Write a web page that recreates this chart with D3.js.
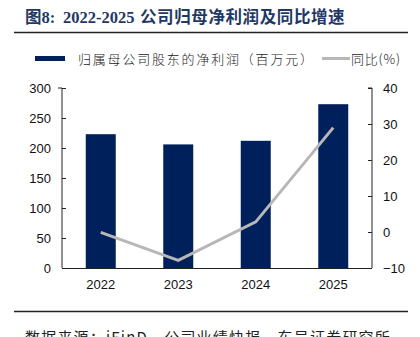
<!DOCTYPE html>
<html><head><meta charset="utf-8">
<script src="https://cdn.jsdelivr.net/npm/d3@7"></script>
<style>body{margin:0;background:#fff}svg{display:block}</style>
</head><body>
<svg id="c" width="420" height="337"></svg>
<script>
const years = ["2022","2023","2024","2025"];
const netProfit = [223, 206, 212, 273];
const growth = [-0.1, -7.9, 2.8, 29.0];
const leftTicks = [0,50,100,150,200,250,300];
const rightTicks = [-10,0,10,20,30,40];
const legendBar = "归属母公司股东的净利润（百万元）";
const legendLine = "同比(%)";
const source = "数据来源：iFinD，公司业绩快报，东吴证券研究所";

const svg = d3.select("#c");
const L = 62, R = 372, T = 88, B = 268;
const x = d3.scaleBand().domain(years).range([L, R]).paddingInner(0.613).paddingOuter(0.3065);
const yL = d3.scaleLinear().domain([0,300]).range([B, T]);
const yR = d3.scaleLinear().domain([-10,40]).range([B, T]);
const navy = "#00205b", grey = "#b7b7b7";
const sans = "'Liberation Sans', Arial, sans-serif";
const cjk = "'Noto Sans CJK SC', sans-serif";

// title
const tt = svg.append("text").attr("x", 25).attr("y", 23).attr("fill", "#1f3864")
  .attr("font-size", 16.5).attr("font-weight", "bold");
tt.append("tspan").attr("font-family", cjk).text("图");
tt.append("tspan").attr("font-family", "'Liberation Serif', serif").text("8:");
tt.append("tspan").attr("x", 63).attr("font-family", "'Liberation Serif', serif").text("2022-2025");
tt.append("tspan").attr("x", 140).attr("font-family", cjk).attr("letter-spacing", 0.6).text("公司归母净利润及同比增速");
svg.append("line").attr("x1",14).attr("x2",408).attr("y1",32.5).attr("y2",32.5).attr("stroke","#222").attr("stroke-width",1.3);
svg.append("line").attr("x1",14).attr("x2",408).attr("y1",311.5).attr("y2",311.5).attr("stroke","#222").attr("stroke-width",1.3);
svg.append("text").attr("x",25).attr("y",343).attr("font-family",cjk).attr("font-size",15).attr("letter-spacing",1.2).attr("fill","#222").text(source);

// legend
svg.append("rect").attr("x",35).attr("y",56).attr("width",30).attr("height",5).attr("fill",navy);
svg.append("text").attr("x",78).attr("y",63.5).attr("font-family",cjk).attr("font-size",13).attr("font-weight",300).attr("letter-spacing",1.8).attr("fill","#222").text(legendBar);
svg.append("line").attr("x1",322).attr("x2",350).attr("y1",58.5).attr("y2",58.5).attr("stroke",grey).attr("stroke-width",3);
svg.append("text").attr("x",351).attr("y",63.5).attr("font-family",cjk).attr("font-size",13).attr("font-weight",300).attr("letter-spacing",0.8).attr("fill","#222").text(legendLine);

// bars
svg.append("g").selectAll("rect").data(years).join("rect")
  .attr("x", d => x(d)).attr("width", x.bandwidth())
  .attr("y", (d,i) => yL(netProfit[i])).attr("height", (d,i) => B - yL(netProfit[i]))
  .attr("fill", navy);

// line
const line = d3.line().x((d,i) => x(years[i]) + x.bandwidth()/2).y(d => yR(d));
svg.append("path").datum(growth).attr("d", line).attr("fill","none").attr("stroke",grey).attr("stroke-width",3);

// axes
const axL = svg.append("g").attr("transform",`translate(${L},0)`)
  .call(d3.axisLeft(yL).tickValues(leftTicks).tickSizeInner(-4).tickSizeOuter(-4).tickPadding(11));
const axR = svg.append("g").attr("transform",`translate(${R},0)`)
  .call(d3.axisRight(yR).tickValues(rightTicks).tickSizeInner(-4).tickSizeOuter(-4).tickPadding(11));
const axB = svg.append("g").attr("transform",`translate(0,${B})`)
  .call(d3.axisBottom(x).tickSize(0).tickPadding(12));
[axL, axR, axB].forEach(a => {
  a.selectAll("text").attr("font-family", sans).attr("font-size", 13).attr("fill", "#111");
  a.selectAll("path,line").attr("stroke", "#222");
});
axB.select(".domain").attr("d", `M${L},0.5H${R}`);
axL.select(".domain").attr("d", `M-4,${T}H0V${B}`);
axR.select(".domain").attr("d", `M-4,${T}H0V${B}`);
</script>
</body></html>
